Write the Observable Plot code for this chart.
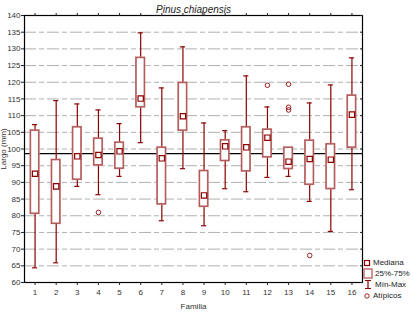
<!DOCTYPE html>
<html><head><meta charset="utf-8">
<script src="https://cdn.jsdelivr.net/npm/d3@7"></script>
<script src="https://cdn.jsdelivr.net/npm/@observablehq/plot@0.6"></script>
<style>
body{margin:0;background:#fff;font-family:"Liberation Sans",Arial,sans-serif;}
#wrap{position:relative;width:413px;height:312px;}
#legend{position:absolute;left:363px;top:257px;font-size:8px;color:#222;line-height:11px;}
#legend div{display:flex;align-items:center;height:11px;}
#legend svg{margin-right:2px;}
</style></head><body>
<div id="wrap"><div id="chart"></div>
<div id="legend">
<div><svg width="8" height="8"><rect x="1.5" y="1.5" width="5" height="5" fill="#fff" stroke="#8b0000" stroke-width="1.2"/></svg>Mediana</div>
<div><svg width="10" height="11"><rect x="1" y="1" width="8" height="9" fill="#fff" stroke="#c47a7a" stroke-width="1.6"/></svg>25%-75%</div>
<div><svg width="10" height="11"><path d="M2,1.5H8M5,1.5V9.5M2,9.5H8" stroke="#8b0000" stroke-width="1.2" fill="none"/></svg>Mín-Max</div>
<div><svg width="8" height="8"><circle cx="4" cy="4" r="2.2" fill="none" stroke="#a02020" stroke-width="1"/></svg>Atípicos</div>
</div></div>
<script>
const familia = [1,2,3,4,5,6,7,8,9,10,11,12,13,14,15,16];
const minimo  = [64.4,65.9,88.8,86.3,91.8,101.9,78.5,94.1,77.0,88.1,87.2,91.5,91.8,84.3,75.3,87.8];
const q1      = [80.6,77.6,90.8,95.1,94.1,112.5,83.4,105.5,82.7,96.4,93.3,97.5,94.0,89.3,88.0,100.4];
const mediana = [92.6,88.8,97.8,98.2,99.3,115.1,97.2,109.8,86.1,100.8,100.5,103.4,96.2,97.0,96.8,110.3];
const q3      = [105.5,96.7,106.5,103.1,101.9,127.3,100.4,119.8,93.4,102.6,106.5,105.8,100.4,102.5,101.4,116.0];
const maximo  = [107.3,114.5,113.5,111.7,107.6,134.8,118.3,130.6,107.8,105.5,121.9,112.6,100.4,113.8,119.2,127.3];
const atipicosFam = [4,12,13,13,13,14];
const atipicosVal = [81.0,119.1,119.4,112.5,111.7,68.1];
const mediaGeneral = 98.6;
const yTicks = [60,65,70,75,80,85,90,95,100,105,110,115,120,125,130,135,140];

const boxes = familia.map((f,i)=>({f,min:minimo[i],q1:q1[i],med:mediana[i],q3:q3[i],max:maximo[i]}));
const outliers = atipicosFam.map((f,i)=>({f,v:atipicosVal[i]}));
const dark = "#8b0000";

const chart = Plot.plot({
  width: 413, height: 312,
  marginLeft: 24, marginRight: 51, marginTop: 15, marginBottom: 30,
  style: {fontFamily: "Liberation Sans, Arial, sans-serif", fontSize: "8px", color: "#222", background: "#fff"},
  x: {domain: [0.5, 16.5]},
  y: {domain: [60, 140]},
  marks: [
    Plot.gridY(yTicks.slice(1,-1), {stroke: "#b0b0b0", strokeOpacity: 1, strokeWidth: 1, strokeDasharray: "12,3,5,3"}),
    Plot.ruleY([mediaGeneral], {stroke: "#000", strokeWidth: 1.3}),
    Plot.ruleX(boxes, {x: "f", y1: "min", y2: "max", stroke: dark, strokeWidth: 1.2}),
    Plot.ruleY(boxes, {y: "min", x1: d=>d.f-0.12, x2: d=>d.f+0.12, stroke: dark, strokeWidth: 1.2}),
    Plot.ruleY(boxes, {y: "max", x1: d=>d.f-0.12, x2: d=>d.f+0.12, stroke: dark, strokeWidth: 1.2}),
    Plot.rect(boxes, {x1: d=>d.f-0.2, x2: d=>d.f+0.2, y1: "q1", y2: "q3", fill: "#fff", stroke: "#c47a7a", strokeWidth: 1.8}),
    Plot.rect(boxes, {x1: d=>d.f-0.2, x2: d=>d.f+0.2, y1: "q1", y2: "q3", fill: "none", stroke: "#a84848", strokeWidth: 0.6}),
    Plot.dot(boxes, {x: "f", y: "med", symbol: "square", r: 3, fill: "#fff", stroke: dark, strokeWidth: 1.2}),
    Plot.dot(outliers, {x: "f", y: "v", symbol: "circle", r: 2.3, fill: "none", stroke: "#a02020", strokeWidth: 1}),
    Plot.frame({stroke: "#000", strokeWidth: 1.2}),
    Plot.axisY({ticks: yTicks, tickSize: 3, tickPadding: 1, label: "Largo (mm)", labelAnchor: "center", labelArrow: "none", labelOffset: 24, fill: "#333"}),
    Plot.axisY({anchor: "right", ticks: yTicks, tickSize: -3, tickFormat: () => "", label: null}),
    Plot.axisX({ticks: familia, tickSize: 3, tickPadding: 4, tickFormat: d3.format("d"), label: "Familia", labelAnchor: "center", labelArrow: "none", labelOffset: 26, fill: "#333"}),
    Plot.axisX({anchor: "top", ticks: familia, tickSize: 3, tickFormat: () => "", label: null}),
    Plot.text(["Pinus chiapensis"], {frameAnchor: "top", dy: -10, fontStyle: "italic", fontSize: 10, fill: "#222"})
  ]
});
document.getElementById("chart").appendChild(chart);
</script></body></html>
